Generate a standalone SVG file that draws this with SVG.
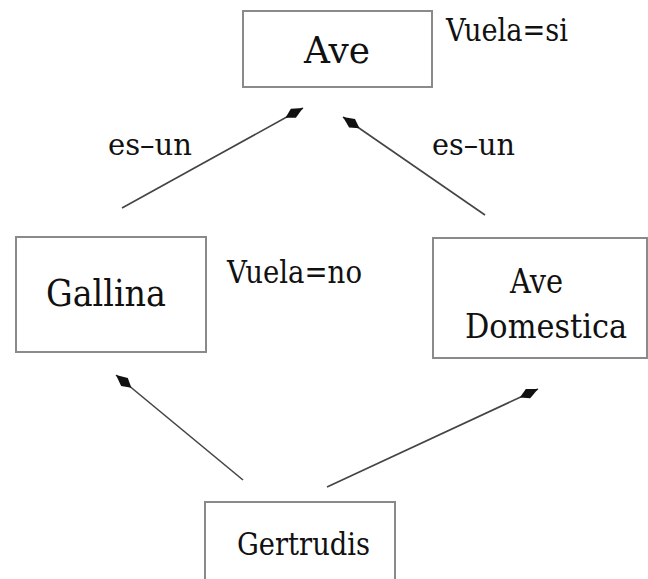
<svg xmlns="http://www.w3.org/2000/svg" width="648" height="579" viewBox="0 0 648 579">
  <style>
    .box { fill: #ffffff; stroke: #8a8a8a; stroke-width: 2; }
    .lbl { fill: #111111; font-family: "DejaVu Serif", "Liberation Serif", serif; }
    .edge { stroke: #444444; stroke-width: 1.6; fill: none; marker-end: url(#head); }
  </style>
  <defs>
    <marker id="head" markerUnits="userSpaceOnUse" markerWidth="30" markerHeight="16" refX="22" refY="8" orient="auto" overflow="visible">
      <path d="M22,8 L11,2.8 L2,8 L11,13.2 Z" fill="#111111"/>
    </marker>
  </defs>
  <rect width="648" height="579" fill="#ffffff"/>

  <g id="connectors">
    <line class="edge" x1="122" y1="208" x2="303" y2="108"/>
    <line class="edge" x1="485" y1="215" x2="343" y2="117"/>
    <line class="edge" x1="243" y1="480" x2="116" y2="375"/>
    <line class="edge" x1="327" y1="487" x2="538" y2="389"/>
    <text class="lbl" x="108" y="155" font-size="30" textLength="84" lengthAdjust="spacingAndGlyphs">es–un</text>
    <text class="lbl" x="432" y="155" font-size="30" textLength="83" lengthAdjust="spacingAndGlyphs">es–un</text>
  </g>

  <g id="ave">
    <rect class="box" x="243" y="11" width="189" height="76"/>
    <text class="lbl" x="304" y="63" font-size="37" textLength="66" lengthAdjust="spacingAndGlyphs">Ave</text>
    <text class="lbl" x="446" y="41" font-size="31" textLength="122" lengthAdjust="spacingAndGlyphs">Vuela=si</text>
  </g>

  <g id="gallina">
    <rect class="box" x="16" y="237" width="190" height="115"/>
    <text class="lbl" x="46" y="306" font-size="37" textLength="120" lengthAdjust="spacingAndGlyphs">Gallina</text>
    <text class="lbl" x="227" y="283" font-size="31" textLength="135" lengthAdjust="spacingAndGlyphs">Vuela=no</text>
  </g>

  <g id="ave-domestica">
    <rect class="box" x="433" y="238" width="214" height="120"/>
    <text class="lbl" x="510" y="293" font-size="33" textLength="53" lengthAdjust="spacingAndGlyphs">Ave</text>
    <text class="lbl" x="465" y="338" font-size="33" textLength="162" lengthAdjust="spacingAndGlyphs">Domestica</text>
  </g>

  <g id="gertrudis">
    <rect class="box" x="205" y="502" width="190" height="90"/>
    <text class="lbl" x="237" y="555" font-size="32" textLength="133" lengthAdjust="spacingAndGlyphs">Gertrudis</text>
  </g>
</svg>
